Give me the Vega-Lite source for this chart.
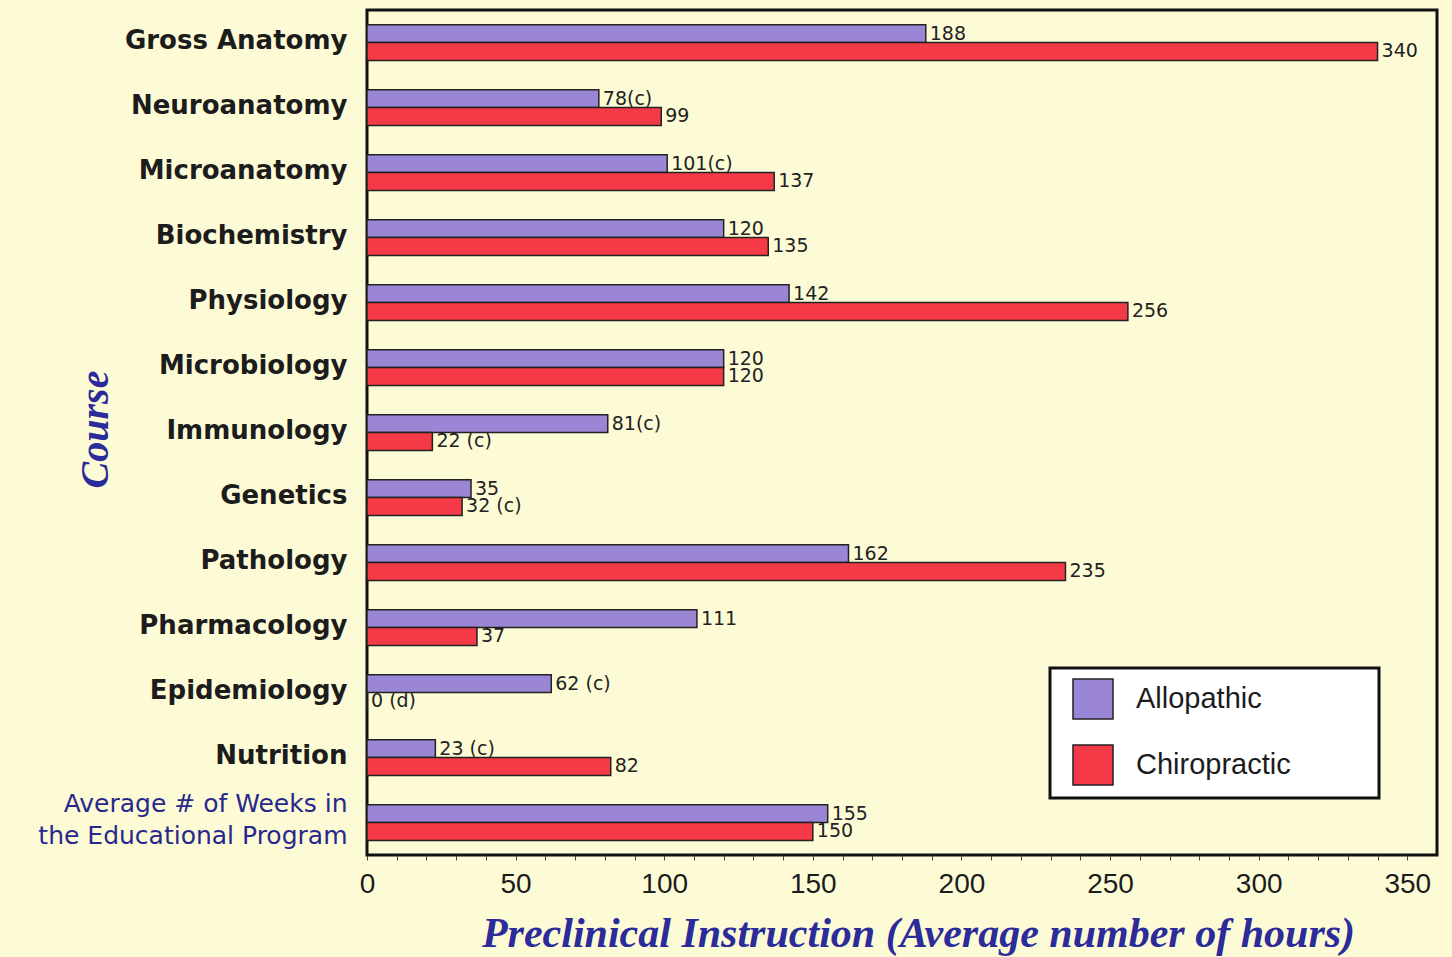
{
  "$schema": "https://vega.github.io/schema/vega-lite/v6.json",
  "width": 1070,
  "height": 845,
  "autosize": {"type": "none"},
  "padding": {"left": 367, "top": 10, "right": 15, "bottom": 102},
  "background": "#fdfbd6",
  "config": {
    "view": {"stroke": "#111111", "strokeWidth": 3},
    "font": "Liberation Sans"
  },
  "data": {
    "values": [
      {"course": "Gross Anatomy", "type": "Allopathic", "hours": 188, "label": "188"},
      {"course": "Gross Anatomy", "type": "Chiropractic", "hours": 340, "label": "340"},
      {"course": "Neuroanatomy", "type": "Allopathic", "hours": 78, "label": "78(c)"},
      {"course": "Neuroanatomy", "type": "Chiropractic", "hours": 99, "label": "99"},
      {"course": "Microanatomy", "type": "Allopathic", "hours": 101, "label": "101(c)"},
      {"course": "Microanatomy", "type": "Chiropractic", "hours": 137, "label": "137"},
      {"course": "Biochemistry", "type": "Allopathic", "hours": 120, "label": "120"},
      {"course": "Biochemistry", "type": "Chiropractic", "hours": 135, "label": "135"},
      {"course": "Physiology", "type": "Allopathic", "hours": 142, "label": "142"},
      {"course": "Physiology", "type": "Chiropractic", "hours": 256, "label": "256"},
      {"course": "Microbiology", "type": "Allopathic", "hours": 120, "label": "120"},
      {"course": "Microbiology", "type": "Chiropractic", "hours": 120, "label": "120"},
      {"course": "Immunology", "type": "Allopathic", "hours": 81, "label": "81(c)"},
      {"course": "Immunology", "type": "Chiropractic", "hours": 22, "label": "22 (c)"},
      {"course": "Genetics", "type": "Allopathic", "hours": 35, "label": "35"},
      {"course": "Genetics", "type": "Chiropractic", "hours": 32, "label": "32 (c)"},
      {"course": "Pathology", "type": "Allopathic", "hours": 162, "label": "162"},
      {"course": "Pathology", "type": "Chiropractic", "hours": 235, "label": "235"},
      {"course": "Pharmacology", "type": "Allopathic", "hours": 111, "label": "111"},
      {"course": "Pharmacology", "type": "Chiropractic", "hours": 37, "label": "37"},
      {"course": "Epidemiology", "type": "Allopathic", "hours": 62, "label": "62 (c)"},
      {"course": "Epidemiology", "type": "Chiropractic", "hours": 0, "label": "0  (d)"},
      {"course": "Nutrition", "type": "Allopathic", "hours": 23, "label": "23 (c)"},
      {"course": "Nutrition", "type": "Chiropractic", "hours": 82, "label": "82"},
      {"course": "Average # of Weeks in the Educational Program", "type": "Allopathic", "hours": 155, "label": "155"},
      {"course": "Average # of Weeks in the Educational Program", "type": "Chiropractic", "hours": 150, "label": "150"}
    ]
  },
  "encoding": {
    "y": {
      "field": "course",
      "type": "nominal",
      "sort": null,
      "scale": {"paddingInner": 0.45, "paddingOuter": 0.225},
      "axis": {
        "ticks": false,
        "domain": false,
        "labelPadding": 20,
        "labelLimit": 500,
        "labelFont": "DejaVu Sans",
        "labelExpr": "indexof(datum.value, 'Weeks') >= 0 ? ['Average # of Weeks in', 'the Educational  Program'] : datum.label",
        "labelLineHeight": 32,
        "labelOffset": {"condition": {"test": "indexof(datum.value, 'Weeks') >= 0", "value": -19}, "value": -2},
        "labelFontSize": {"condition": {"test": "indexof(datum.value, 'Weeks') >= 0", "value": 25}, "value": 26},
        "labelFontWeight": {"condition": {"test": "indexof(datum.value, 'Weeks') >= 0", "value": "normal"}, "value": "bold"},
        "labelColor": {"condition": {"test": "indexof(datum.value, 'Weeks') >= 0", "value": "#28288c"}, "value": "#1c1c1c"},
        "title": "Course",
        "titleFont": "Liberation Serif",
        "titleFontSize": 40,
        "titleFontStyle": "italic",
        "titleFontWeight": "bold",
        "titleColor": "#2b2b9a",
        "titleX": -272,
        "titleY": 419,
        "titleAlign": "center",
        "titleBaseline": "middle"
      }
    },
    "yOffset": {"field": "type", "type": "nominal", "scale": {"paddingInner": 0}},
    "x": {
      "field": "hours",
      "type": "quantitative",
      "scale": {"domain": [0, 360], "nice": false},
      "axis": {
        "values": [0, 10, 20, 30, 40, 50, 60, 70, 80, 90, 100, 110, 120, 130, 140, 150, 160, 170, 180, 190, 200, 210, 220, 230, 240, 250, 260, 270, 280, 290, 300, 310, 320, 330, 340, 350],
        "labelExpr": "datum.value % 50 === 0 ? datum.label : ''",
        "labelOverlap": false,
        "labelFlush": false,
        "grid": false,
        "domain": false,
        "tickSize": 5,
        "tickColor": "#444444",
        "labelFontSize": 28,
        "labelColor": "#1c1c1c",
        "labelPadding": 10,
        "title": "Preclinical Instruction (Average number of hours)",
        "titleFont": "Liberation Serif",
        "titleFontSize": 42,
        "titleFontStyle": "italic",
        "titleFontWeight": "bold",
        "titleColor": "#2b2b9a",
        "titleX": 551,
        "titleY": 78,
        "titleAlign": "center",
        "titleBaseline": "middle"
      }
    }
  },
  "layer": [
    {
      "mark": {"type": "bar", "stroke": "#222222", "strokeWidth": 1.5},
      "encoding": {
        "color": {
          "field": "type",
          "type": "nominal",
          "scale": {"domain": ["Allopathic", "Chiropractic"], "range": ["#9a86d4", "#f43a46"]},
          "legend": {
            "orient": "none",
            "legendX": 683,
            "legendY": 658,
            "title": null,
            "symbolType": "square",
            "symbolSize": 1600,
            "symbolStrokeColor": "#222222",
            "symbolStrokeWidth": 1.5,
            "symbolOpacity": 1,
            "labelFontSize": 29,
            "labelColor": "#1c1c1c",
            "labelLimit": 400,
            "labelExpr": "datum.label + '\u00a0\u00a0\u00a0\u00a0\u00a0\u00a0\u00a0\u2800'",
            "fillColor": "white",
            "strokeColor": "#111111",
            "padding": 10,
            "rowPadding": 20,
            "labelOffset": 22,
            "symbolOffset": 12,
            "encode": {"legend": {"update": {"strokeWidth": {"value": 3}}}}
          }
        }
      }
    },
    {
      "mark": {"type": "text", "align": "left", "baseline": "middle", "dx": 4, "fontSize": 19, "font": "DejaVu Sans", "color": "#222222"},
      "encoding": {"text": {"field": "label"}}
    }
  ]
}
